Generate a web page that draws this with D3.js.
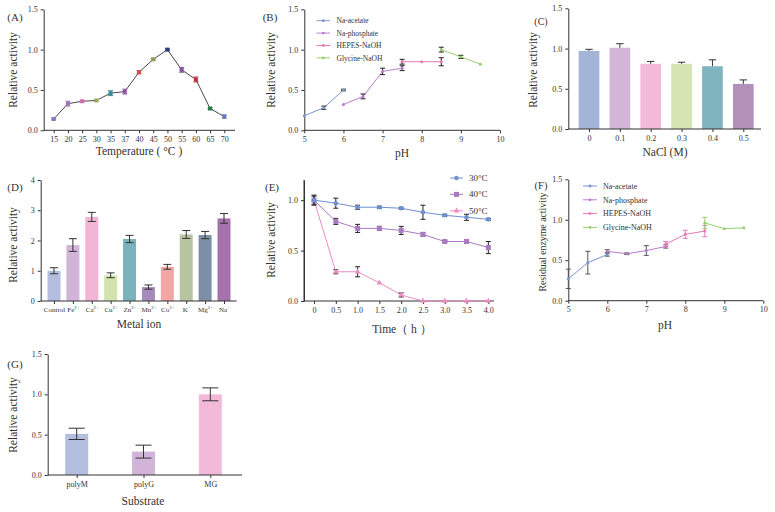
<!DOCTYPE html>
<html><head><meta charset="utf-8">
<script src="https://cdn.jsdelivr.net/npm/d3@7"></script>
<style>
body{margin:0;background:#fff}
svg{display:block;font-family:"Liberation Serif","Times New Roman",serif}
</style></head><body>
<svg id="c" width="775" height="512"></svg>
<script>
// ---------- DATA ----------
const tempCats = ["15","20","25","30","35","37","40","45","50","55","60","65","70"];
const tempVals = [0.14,0.33,0.36,0.37,0.46,0.48,0.72,0.88,1.0,0.75,0.63,0.27,0.17];
const tempErr  = [0.01,0.03,0.01,0.01,0.03,0.03,0.02,0.01,0.01,0.03,0.03,0.01,0.02];
const tempColors = ["#7b7fc0","#a070b8","#d070a8","#9aaa60","#3a8a9a","#9050a0","#d05050","#8a9a60","#303a80","#8050a0","#c03040","#2a7a4a","#6a7ab8"];

const bufferNames = ["Na-acetate","Na-phosphate","HEPES-NaOH","Glycine-NaOH"];
const bufferColors = ["#7b94d2","#b77ccc","#e579b6","#97cf72"];
const pHAcetate = [5,5.5,6], pHPhosphate = [6,6.5,7,7.5], pHHepes = [7.5,8,8.5], pHGlycine = [8.5,9,9.5];
const bAcetate = [0.18,0.28,0.50], bAcetateErr = [0.00,0.02,0.01];
const bPhosphate = [0.32,0.42,0.73,0.77], bPhosphateErr = [0.00,0.03,0.04,0.03];
const bHepes = [0.85,0.85,0.85], bHepesErr = [0.03,0.00,0.05];
const bGlycine = [1.0,0.91,0.82], bGlycineErr = [0.03,0.02,0.00];

const naclCats = ["0","0.1","0.2","0.3","0.4","0.5"];
const naclVals = [0.97,1.01,0.81,0.81,0.78,0.56];
const naclErr  = [0.02,0.05,0.03,0.02,0.08,0.05];
const naclColors = ["#a4b4d6","#d3b5d8","#f3b9d8","#d5e4b1","#80b4bf","#b291b9"];

const ionNames = ["Control","Fe","Ca","Cu","Zn","Mn","Co","K","Mg","Na"];
const ionCharges = ["","2+","2+","2+","2+","2+","2+","+","2+","+"];
const ionVals = [1.0,1.85,2.78,0.85,2.05,0.46,1.13,2.2,2.18,2.73];
const ionErr  = [0.10,0.21,0.15,0.08,0.12,0.07,0.08,0.13,0.12,0.16];
const ionColors = ["#b4bedf","#d3b4d9","#f3b5d6","#d3e3ad","#7bb3bd","#a68cbc","#f3a6a6","#b6c4a2","#7d8fa6","#a572ae"];

const timeH = [0,0.5,1.0,1.5,2.0,2.5,3.0,3.5,4.0];
const timeTicks = ["0","0.5","1.0","1.5","2.0","2.5","3.0","3.5","4.0"];
const stabNames = ["30°C","40°C","50°C"];
const stabColors = ["#7090d0","#a97ac2","#ee8cc2"];
const stab30 = [1.0,0.97,0.93,0.93,0.92,0.88,0.85,0.83,0.81], stab30Err = [0.05,0.05,0.02,0.01,0.01,0.07,0.01,0.03,0.01];
const stab40 = [1.0,0.79,0.72,0.72,0.70,0.66,0.59,0.59,0.53], stab40Err = [0.04,0.03,0.04,0.02,0.04,0.02,0.01,0.02,0.06];
const stab50 = [1.0,0.29,0.29,0.18,0.06,0.0,0.0,0.0,0.0], stab50Err = [0.0,0.02,0.05,0.0,0.02,0.0,0.0,0.0,0.0];

const fAcetate = [0.27,0.47,0.57], fAcetateErr = [0.12,0.14,0.02];
const fPhosphate = [0.61,0.58,0.62,0.67], fPhosphateErr = [0.02,0.01,0.06,0.02];
const fHepes = [0.70,0.82,0.86], fHepesErr = [0.03,0.05,0.07];
const fGlycine = [0.96,0.89,0.90], fGlycineErr = [0.07,0.0,0.0];

const substrates = ["polyM","polyG","MG"];
const subVals = [0.51,0.29,1.0];
const subErr  = [0.07,0.08,0.08];
const subColors = ["#b4bedf","#d3b4d9","#f3b9d8"];

// ---------- HELPERS ----------
const svg = d3.select("#c");
const AX = "#333", TXT = "#333";
const fmt1 = d3.format(".1f");

function yAxis(g, y, x0, ticks, f){
  const a = g.append("g").attr("transform",`translate(${x0},0)`)
    .call(d3.axisLeft(y).tickValues(ticks).tickFormat(f).tickSize(3).tickSizeOuter(0));
  a.select(".domain").attr("stroke",AX);
  a.selectAll(".tick line").attr("stroke",AX);
  a.selectAll("text").attr("fill",TXT).style("font-size","8px").attr("font-family","Liberation Serif");
  return a;
}
function xAxis(g, x, y0, ticks, f, x1, x2){
  const a = g.append("g").attr("transform",`translate(0,${y0})`)
    .call(d3.axisBottom(x).tickValues(ticks).tickFormat(f).tickSize(3).tickSizeOuter(0));
  a.select(".domain").remove();
  a.append("line").attr("x1",x1).attr("x2",x2).attr("stroke",AX);
  a.selectAll(".tick line").attr("stroke",AX);
  a.selectAll("text").attr("fill",TXT).style("font-size","8px").attr("font-family","Liberation Serif");
  return a;
}
function label(t,x,y,size,rot){
  const e = svg.append("text").attr("fill",TXT).style("font-size",size+"px").attr("text-anchor","middle").text(t);
  if(rot) e.attr("transform",`translate(${x},${y}) rotate(-90)`); else e.attr("x",x).attr("y",y);
  return e;
}
function errBar(g,x,y,v,e,cap,col,upOnly){
  if(!e) return;
  const yt=y(v+e), yb= upOnly? y(v): y(v-e);
  g.append("line").attr("x1",x).attr("x2",x).attr("y1",yt).attr("y2",yb).attr("stroke",col).attr("stroke-width",1);
  g.append("line").attr("x1",x-cap).attr("x2",x+cap).attr("y1",yt).attr("y2",yt).attr("stroke",col).attr("stroke-width",1);
  if(!upOnly) g.append("line").attr("x1",x-cap).attr("x2",x+cap).attr("y1",yb).attr("y2",yb).attr("stroke",col).attr("stroke-width",1);
}

// ---------- (A) ----------
{
  const g = svg.append("g");
  const x = d3.scalePoint().domain(tempCats).range([53.7,224.3]);
  const y = d3.scaleLinear().domain([0,1.5]).range([130.3,9.3]);
  yAxis(g,y,43.7,[0,0.5,1.0,1.5],fmt1);
  xAxis(g,x,130.3,tempCats,d=>d,43.7,235);
  g.append("path").datum(tempCats.map((c,i)=>[x(c),y(tempVals[i])]))
    .attr("d",d3.line()).attr("fill","none").attr("stroke","#333").attr("stroke-width",0.9);
  tempCats.forEach((c,i)=>{
    errBar(g,x(c),y,tempVals[i],tempErr[i],2.5,tempColors[i]);
    g.append("rect").attr("x",x(c)-2).attr("y",y(tempVals[i])-2).attr("width",4).attr("height",4).attr("fill",tempColors[i]);
  });
  label("Relative activity",17,70,11.5,true);
  label("Temperature ( °C )",139,155,11.5);
  label("(A)",15,21,11);
}

// line panel helper
function linePanel(g,x,y,xs,vs,es,col,errCol,marker){
  g.append("path").datum(xs.map((v,i)=>[x(v),y(vs[i])])).attr("d",d3.line())
    .attr("fill","none").attr("stroke",col).attr("stroke-width",1);
  xs.forEach((v,i)=>{
    errBar(g,x(v),y,vs[i],es[i],2.5,errCol);
    const cx=x(v), cy=y(vs[i]);
    if(marker==="square") g.append("rect").attr("x",cx-2.5).attr("y",cy-2.5).attr("width",5).attr("height",5).attr("fill",col);
    else if(marker==="tri") g.append("path").attr("d",d3.symbol(d3.symbolTriangle,14)()).attr("transform",`translate(${cx},${cy})`).attr("fill",col);
    else g.append("circle").attr("cx",cx).attr("cy",cy).attr("r",marker==="big"?2.3:1.5).attr("fill",col);
  });
}

// ---------- (B) ----------
{
  const g = svg.append("g");
  const x = d3.scaleLinear().domain([5,10]).range([304.3,500]);
  const y = d3.scaleLinear().domain([0,1.5]).range([130.3,9.3]);
  yAxis(g,y,304.3,[0,0.5,1.0,1.5],fmt1);
  xAxis(g,x,130.3,[5,6,7,8,9,10],d3.format("d"),304.3,500);
  linePanel(g,x,y,pHAcetate,bAcetate,bAcetateErr,bufferColors[0],"#222");
  linePanel(g,x,y,pHPhosphate,bPhosphate,bPhosphateErr,bufferColors[1],"#222");
  linePanel(g,x,y,pHHepes,bHepes,bHepesErr,bufferColors[2],"#222");
  linePanel(g,x,y,pHGlycine,bGlycine,bGlycineErr,bufferColors[3],"#222");
  bufferNames.forEach((n,i)=>{
    const ly=20.7+i*12.4;
    g.append("line").attr("x1",316.5).attr("x2",330).attr("y1",ly).attr("y2",ly).attr("stroke",bufferColors[i]);
    g.append("circle").attr("cx",323.3).attr("cy",ly).attr("r",1.4).attr("fill",bufferColors[i]);
    g.append("text").attr("x",336.5).attr("y",ly+2.6).attr("fill",TXT).style("font-size","7.5px").text(n);
  });
  label("Relative activity",275,70,11.5,true);
  label("pH",402,157,11.5);
  label("(B)",270,21,11);
}

// ---------- (C) ----------
{
  const g = svg.append("g");
  const x = d3.scalePoint().domain(naclCats).range([589,743.3]);
  const y = d3.scaleLinear().domain([0,1.5]).range([129,8.3]);
  const bw=20.7;
  naclCats.forEach((c,i)=>{
    g.append("rect").attr("x",x(c)-bw/2).attr("y",y(naclVals[i])).attr("width",bw).attr("height",y(0)-y(naclVals[i])).attr("fill",naclColors[i]);
    errBar(g,x(c),y,naclVals[i],naclErr[i],3.7,"#333",true);
  });
  yAxis(g,y,568.3,[0,0.5,1.0,1.5],fmt1);
  xAxis(g,x,129,naclCats,d=>d,568.3,761);
  label("Relative activity",537,70,11.5,true);
  label("NaCl (M)",665,156,11.5);
  label("(C)",541,25,10);
}

// ---------- (D) ----------
{
  const g = svg.append("g");
  const x = d3.scalePoint().domain(ionNames).range([54,224]);
  const y = d3.scaleLinear().domain([0,4]).range([301,180]);
  const bw=13;
  ionNames.forEach((c,i)=>{
    g.append("rect").attr("x",x(c)-bw/2).attr("y",y(ionVals[i])).attr("width",bw).attr("height",y(0)-y(ionVals[i])).attr("fill",ionColors[i]);
    errBar(g,x(c),y,ionVals[i],ionErr[i],4,"#333");
  });
  yAxis(g,y,40.7,[0,1,2,3,4],d3.format("d"));
  const a = xAxis(g,x,301,ionNames,d=>"",40.7,236.7);
  a.selectAll(".tick text").each(function(d,i){
    const t=d3.select(this).text(null).style("font-size","7px");
    t.append("tspan").text(d);
    if(ionCharges[i]) t.append("tspan").attr("dy",-3).style("font-size","5px").text(ionCharges[i]);
  });
  label("Relative activity",17,245,11.5,true);
  label("Metal ion",139,328,11.5);
  label("(D)",15,191,11);
}

// ---------- (E) ----------
{
  const g = svg.append("g");
  const x = d3.scaleLinear().domain([-0.23,4.13]).range([304,494]);
  const y = d3.scaleLinear().domain([0,1.2]).range([301,180]);
  yAxis(g,y,304,[0,0.5,1.0],fmt1);
  g.append("line").attr("x1",304).attr("x2",304).attr("y1",180).attr("y2",301).attr("stroke",AX);
  xAxis(g,x,301,timeH,(d,i)=>timeTicks[i],304,494);
  linePanel(g,x,y,timeH,stab50,stab50Err,stabColors[2],"#222","tri");
  linePanel(g,x,y,timeH,stab40,stab40Err,stabColors[1],"#222","square");
  linePanel(g,x,y,timeH,stab30,stab30Err,stabColors[0],"#222","big");
  stabNames.forEach((n,i)=>{
    const ly=178+i*16.4;
    g.append("line").attr("x1",450).attr("x2",463).attr("y1",ly).attr("y2",ly).attr("stroke",stabColors[i]);
    if(i===0) g.append("circle").attr("cx",456.5).attr("cy",ly).attr("r",2.3).attr("fill",stabColors[i]);
    if(i===1) g.append("rect").attr("x",454).attr("y",ly-2.5).attr("width",5).attr("height",5).attr("fill",stabColors[i]);
    if(i===2) g.append("path").attr("d",d3.symbol(d3.symbolTriangle,14)()).attr("transform",`translate(456.5,${ly})`).attr("fill",stabColors[i]);
    g.append("text").attr("x",469).attr("y",ly+3).attr("fill",TXT).style("font-size","9px").text(n);
  });
  label("Relative activity",275,240,11.5,true);
  label("Time（ h ）",402,333,11.5);
  label("(E)",272,191,11);
}

// ---------- (F) ----------
{
  const g = svg.append("g");
  const x = d3.scaleLinear().domain([5,10]).range([568.3,763.3]);
  const y = d3.scaleLinear().domain([0,1.5]).range([300.7,179.3]);
  yAxis(g,y,568.3,[0,0.5,1.0,1.5],fmt1);
  xAxis(g,x,300.7,[5,6,7,8,9,10],d3.format("d"),568.3,763.3);
  linePanel(g,x,y,pHAcetate,fAcetate,fAcetateErr,bufferColors[0],"#555");
  linePanel(g,x,y,pHPhosphate,fPhosphate,fPhosphateErr,bufferColors[1],"#555");
  linePanel(g,x,y,pHHepes,fHepes,fHepesErr,bufferColors[2],bufferColors[2]);
  linePanel(g,x,y,pHGlycine,fGlycine,fGlycineErr,bufferColors[3],bufferColors[3]);
  bufferNames.forEach((n,i)=>{
    const ly=186+i*13.8;
    g.append("line").attr("x1",583).attr("x2",597).attr("y1",ly).attr("y2",ly).attr("stroke",bufferColors[i]);
    g.append("circle").attr("cx",590).attr("cy",ly).attr("r",1.4).attr("fill",bufferColors[i]);
    g.append("text").attr("x",603).attr("y",ly+2.8).attr("fill",TXT).style("font-size","8px").text(n);
  });
  label("Residual enzyme activity",546,242,9.8,true);
  label("(F)",541,189,10.5);
}
{
  label("pH",665,329,11.5);
}

// ---------- (G) ----------
{
  const g = svg.append("g");
  const x = d3.scalePoint().domain(substrates).range([76.7,210.3]);
  const y = d3.scaleLinear().domain([0,1.5]).range([475,354]);
  const bw=23;
  substrates.forEach((c,i)=>{
    g.append("rect").attr("x",x(c)-bw/2).attr("y",y(subVals[i])).attr("width",bw).attr("height",y(0)-y(subVals[i])).attr("fill",subColors[i]);
    errBar(g,x(c),y,subVals[i],subErr[i],8,"#333");
  });
  yAxis(g,y,47.7,[0,0.5,1.0,1.5],fmt1);
  xAxis(g,x,475,substrates,d=>d,47.7,242);
  label("Relative activity",17,415,11.5,true);
  label("Substrate",143,505,11.5);
  label("(G)",15,368,11);
}
</script>
</body></html>
